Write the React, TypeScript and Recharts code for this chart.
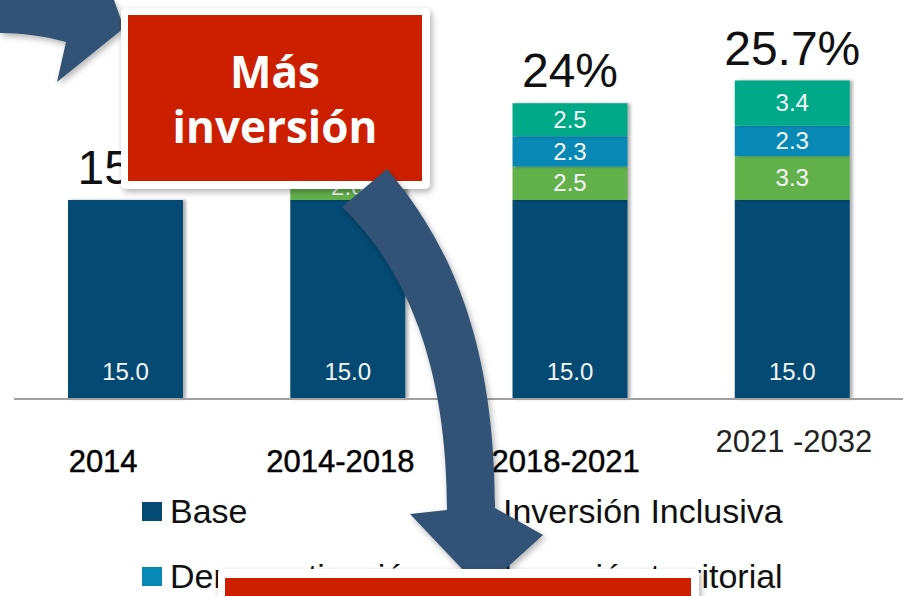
import { BarChart, Bar, XAxis, YAxis, LabelList, Legend } from "recharts";

const categories = ["2014", "2014-2018", "2018-2021", "2021 -2032"];
const base = [15.0, 15.0, 15.0, 15.0];
const inclusiva = [0, 2.0, 2.5, 3.3];
const democratizacion = [0, 0, 2.3, 2.3];
const territorial = [0, 0, 2.5, 3.4];
const totals = ["15%", "17%", "24%", "25.7%"];

const series = [
  { key: "base", name: "Base", color: "#044a72" },
  { key: "inclusiva", name: "Inversión Inclusiva", color: "#63b14b" },
  { key: "democratizacion", name: "Democratización", color: "#0889b5" },
  { key: "territorial", name: "Inversión territorial", color: "#00a987" },
];

const data = categories.map((c, i) => ({
  name: c,
  base: base[i],
  inclusiva: inclusiva[i],
  democratizacion: democratizacion[i],
  territorial: territorial[i],
  total: totals[i],
}));

const FONT = "'Liberation Sans', Arial, sans-serif";
// tick labels in the slide are not centred under their bars
const tickShift = [-22, -7, -4, 2];

function SegmentLabel(props: any) {
  const { x, y, width, height, value } = props;
  if (!value || height < 5) return null;
  return (
    <text x={x + width / 2} y={y + height / 2 + 8} textAnchor="middle" fill="#f4f7f8" fontSize={24} fontFamily={FONT}>
      {Number(value).toFixed(1)}
    </text>
  );
}

function BaseLabel(props: any) {
  const { x, y, width, height, value } = props;
  return (
    <text x={x + width / 2} y={y + height - 19} textAnchor="middle" fill="#f4f7f8" fontSize={24} fontFamily={FONT}>
      {Number(value).toFixed(1)}
    </text>
  );
}

// total label sits above the whole stack; stack top derived from the base bar's own scale
function TotalLabel(props: any) {
  const { x, y, width, height, index } = props;
  const rest = inclusiva[index] + democratizacion[index] + territorial[index];
  const top = y - (rest * height) / base[index];
  return (
    <text x={x + width / 2} y={top - 16} textAnchor="middle" fill="#111" fontSize={48} fontFamily={FONT}>
      {totals[index]}
    </text>
  );
}

function Tick(props: any) {
  const { x, payload, index } = props;
  const last = index === categories.length - 1;
  return (
    <text
      x={x + tickShift[index]}
      y={last ? 452 : 472}
      textAnchor="middle"
      fill={last ? "#222" : "#000"}
      stroke={last ? "none" : "#000"}
      strokeWidth={0.45}
      fontSize={31}
      fontFamily={FONT}
    >
      {payload.value}
    </text>
  );
}

function LegendBox() {
  const pos = [
    { left: 142, top: 0 },
    { left: 475, top: 0 },
    { left: 142, top: 65 },
    { left: 475, top: 65 },
  ];
  return (
    <div style={{ position: "relative", width: 905, height: 100 }}>
      {series.map((s, i) => (
        <div
          key={s.key}
          style={{
            position: "absolute",
            left: pos[i].left,
            top: pos[i].top,
            display: "flex",
            alignItems: "center",
            fontFamily: FONT,
            fontSize: 34,
            lineHeight: "34px",
            color: "#111",
            whiteSpace: "nowrap",
          }}
        >
          <span style={{ display: "inline-block", width: 20, height: 19, background: s.color, marginRight: 8 }} />
          {s.name}
        </div>
      ))}
    </div>
  );
}

function Overlay() {
  return (
    <svg width={905} height={596} style={{ position: "absolute", left: 0, top: 0, pointerEvents: "none" }}>
      <defs>
        <filter id="sh" x="-10%" y="-10%" width="120%" height="130%">
          <feDropShadow dx="2" dy="3" stdDeviation="3" floodColor="#000" floodOpacity="0.3" />
        </filter>
      </defs>
      {/* top-left arrow */}
      <path d="M 0 0 L 114 0 L 124 28 L 57 82 L 66 42 C 45 36, 20 33, 0 33 Z" fill="#305274" filter="url(#sh)" />
      {/* top red box */}
      <rect x={121} y={8} width={309} height={181} rx={5} fill="#fff" filter="url(#sh)" />
      <rect x={128} y={15} width={294} height={166} fill="#cc1f00" />
      <text x={275} y={88} textAnchor="middle" fill="#fff" fontSize={44} fontWeight="bold" fontFamily="'Open Sans', sans-serif">
        Más
      </text>
      <text x={275} y={143} textAnchor="middle" fill="#fff" fontSize={44} fontWeight="bold" fontFamily="'Open Sans', sans-serif">
        inversión
      </text>
      {/* big arrow */}
      <path
        d="M 387 169 C 443 235, 495 330, 495 508 L 543 535 L 482 590 L 410 514 L 447 510 C 447 360, 403 265, 342 207 Z"
        fill="#305274"
        filter="url(#sh)"
      />
      {/* bottom red box */}
      <rect x={218} y={569} width={481} height={40} rx={4} fill="#fff" filter="url(#sh)" />
      <rect x={225} y={578} width={466} height={30} fill="#cc1f00" />
    </svg>
  );
}

export default function App() {
  return (
    <div style={{ position: "absolute", left: 0, top: 0, width: 905, height: 596, background: "#fff", overflow: "hidden" }}>
      <style>{`.recharts-bar-rectangle path { filter: drop-shadow(3px 0px 1.5px rgba(0,0,0,0.3)); }`}</style>
      <BarChart width={905} height={596} data={data} margin={{ top: 1, right: 2, bottom: 0, left: 14 }} barCategoryGap={0}>
        <XAxis
          dataKey="name"
          height={197}
          axisLine={{ stroke: "#a0a0a0", strokeWidth: 2 }}
          tickLine={false}
          tick={<Tick />}
          interval={0}
        />
        <YAxis hide domain={[0, 30]} />
        <Legend
          layout="horizontal"
          verticalAlign="middle"
          align="center"
          wrapperStyle={{ position: "absolute", top: 494, left: 0, width: 905 }}
          content={() => <LegendBox />}
        />
        <Bar dataKey="base" name="Base" stackId="a" fill={series[0].color} barSize={115} isAnimationActive={false}>
          <LabelList dataKey="base" content={<BaseLabel />} />
          <LabelList dataKey="total" content={<TotalLabel />} />
        </Bar>
        <Bar dataKey="inclusiva" name="Inversión Inclusiva" stackId="a" fill={series[1].color} barSize={115} isAnimationActive={false}>
          <LabelList dataKey="inclusiva" content={<SegmentLabel />} />
        </Bar>
        <Bar dataKey="democratizacion" name="Democratización" stackId="a" fill={series[2].color} barSize={115} isAnimationActive={false}>
          <LabelList dataKey="democratizacion" content={<SegmentLabel />} />
        </Bar>
        <Bar dataKey="territorial" name="Inversión territorial" stackId="a" fill={series[3].color} barSize={115} isAnimationActive={false}>
          <LabelList dataKey="territorial" content={<SegmentLabel />} />
        </Bar>
      </BarChart>
      <Overlay />
    </div>
  );
}
